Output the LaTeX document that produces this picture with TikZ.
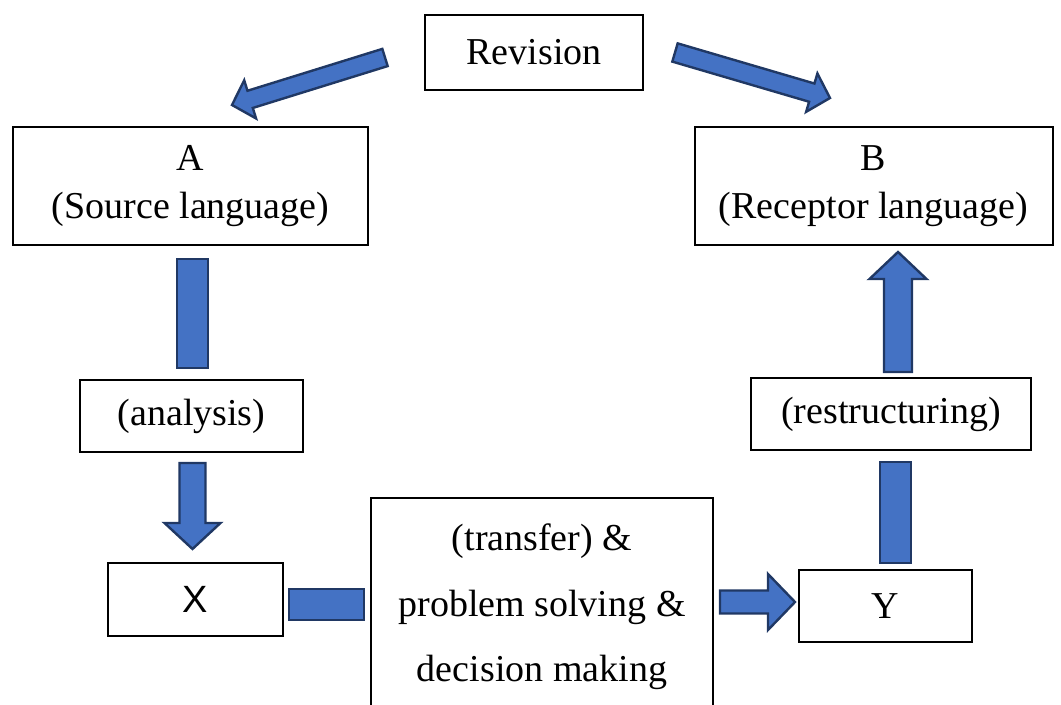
\documentclass[tikz,border=0pt]{standalone}
\usepackage{fontspec}
\setmainfont{Liberation Serif}
\newfontfamily\xfont{Liberation Sans}
\usepackage{tikz}
\usetikzlibrary{calc}

\definecolor{arrowblue}{HTML}{4472C4}
\definecolor{arrowedge}{HTML}{203864}

\tikzset{
    box/.style={draw, line width=1pt, fill=white, align=center, inner sep=0pt,
        font=\fontsize{19}{24}\selectfont},
    blockarrow/.style={draw=arrowedge, fill=arrowblue, line width=1.2pt, line join=miter}
}

%% block arrow: from, to, half shaft, half head, head length
\newcommand{\fatarrow}[5]{%
    \coordinate (hb) at ($(#2)!#5!(#1)$);
    \draw[blockarrow] ($(#1)!#3!90:(#2)$) -- ($(hb)!#3!90:(#2)$) -- ($(hb)!#4!90:(#2)$) -- (#2)
        -- ($(hb)!#4!-90:(#2)$) -- ($(hb)!#3!-90:(#2)$) -- ($(#1)!#3!-90:(#2)$) -- cycle;
}
%% block bar: from, to, half width
\newcommand{\fatbar}[3]{%
    \draw[blockarrow] ($(#1)!#3!90:(#2)$) -- ($(#2)!#3!-90:(#1)$)
        -- ($(#2)!#3!90:(#1)$) -- ($(#1)!#3!-90:(#2)$) -- cycle;
}

\begin{document}
\begin{tikzpicture}[x=0.5pt, y=-0.5pt]
    %%Background
    \useasboundingbox (0,0) rectangle (1061,705);
    \clip (0,0) rectangle (1061,705);

    %%Boxes
    \node[box, minimum width=109pt, minimum height=37.5pt] (rev) at (534,52.5) {Revision};
    \node[box, minimum width=177.5pt, minimum height=59pt] (src) at (190.5,186) {A\\(Source language)};
    \node[box, minimum width=179pt, minimum height=59pt] (rec) at (873.5,186) {B\\(Receptor language)};
    \node[box, minimum width=111.5pt, minimum height=36pt] (ana) at (191.5,416) {(analysis)};
    \node[box, minimum width=140pt, minimum height=36pt] (res) at (891,414) {(restructuring)};
    \node[box, minimum width=87.5pt, minimum height=36.5pt] (xx) at (195.5,599.5) {\xfont X};
    \node[box, minimum width=86.5pt, minimum height=36pt] (yy) at (885.5,606) {Y};
    \node[box, minimum width=171pt, minimum height=109pt,
        font=\fontsize{19}{32.75}\selectfont] (trans) at (542,607)
        {(transfer) \&\\problem solving \&\\decision making};

    %%Arrow ends
    \coordinate (revl) at (385,57.5);
    \coordinate (srct) at (232,105);
    \coordinate (revr) at (675,52.5);
    \coordinate (rect) at (830,98);
    \coordinate (srcb) at (192.5,259);
    \coordinate (anat) at (192.5,368);
    \coordinate (anab) at (192.5,463);
    \coordinate (xxt) at (192.5,549);
    \coordinate (xxr) at (289,604.5);
    \coordinate (transl) at (364,604.5);
    \coordinate (transr) at (720,602);
    \coordinate (yyl) at (795,602);
    \coordinate (yyt) at (895.5,563);
    \coordinate (resb) at (895.5,462);
    \coordinate (rest) at (898,372);
    \coordinate (recb) at (898,252);

    %%Arrows
    \fatarrow{revl}{srct}{4.5pt}{10pt}{9.5pt}
    \fatarrow{revr}{rect}{4.75pt}{10pt}{9.5pt}
    \fatbar{srcb}{anat}{7.75pt}
    \fatarrow{anab}{xxt}{6.5pt}{14pt}{13pt}
    \fatbar{xxr}{transl}{7.75pt}
    \fatarrow{transr}{yyl}{5.75pt}{14pt}{13.5pt}
    \fatbar{yyt}{resb}{7.75pt}
    \fatarrow{rest}{recb}{7pt}{14.25pt}{13.5pt}

\end{tikzpicture}
\end{document}
